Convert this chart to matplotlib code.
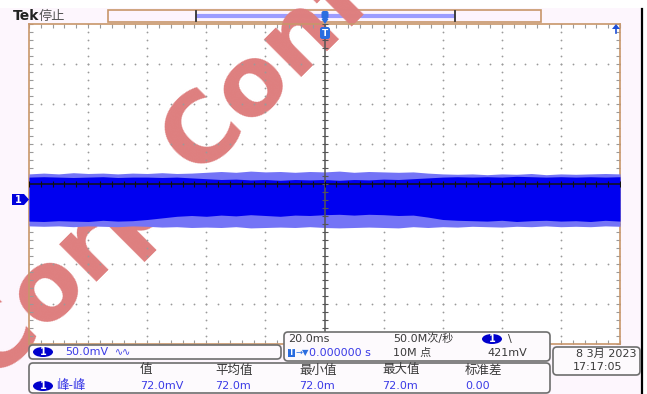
import numpy as np
import matplotlib
matplotlib.use('Agg')
import matplotlib.pyplot as plt
from matplotlib.patches import FancyBboxPatch, Rectangle, Polygon, Ellipse

plt.rcParams['font.family'] = ['DejaVu Sans', 'Noto Sans CJK SC']

# trace envelope, mV vs ms (20 ms/div, 50 mV/div)
time_ms = np.arange(-100, 101, 5)
outer_top = [32, 33, 32, 33.5, 32.5, 33, 32, 33, 32.5, 33.5, 32.5, 33, 34, 35, 34, 35.5, 34.5, 35, 34, 35, 34.5,
             35.5, 34, 35, 34.5, 34, 34.5, 33, 32, 31.5, 32, 31, 32, 31.5, 32.5, 31, 32, 31.5, 32, 32.5, 32]
core_top = [28, 28.5, 28, 27.5, 28, 28.5, 27.5, 28, 28, 27.5, 28, 27, 26, 25, 25.5, 24.5, 25, 24, 25, 24.5, 25,
            24, 25, 24.5, 25.5, 25, 26, 27, 28, 28.5, 28, 28.5, 28, 29, 28.5, 28, 28.5, 28, 28.5, 28, 28.5]
core_bot = [-27, -27.5, -26.5, -27, -27.5, -26, -27, -26.5, -25, -23, -21, -20, -21, -19.5, -20.5, -19, -20, -21,
            -19.5, -20, -19, -18.5, -19.5, -18.5, -19, -20, -19.5, -22, -25, -26, -26.5, -27, -26, -27.5, -26.5,
            -26, -27, -26.5, -27.5, -26, -27]
outer_bot = [-33, -33.5, -33, -34, -33, -33.5, -34, -33, -33.5, -34.5, -34, -35, -34.5, -35, -34, -35.5, -35,
             -34.5, -35, -34, -35, -35.5, -35, -34.5, -35, -35.5, -34, -35, -34, -34.5, -33.5, -34, -34.5, -33.5,
             -34, -33, -34, -33.5, -34, -33, -33.5]

ch1_offset_mv = 20  # ground marker sits 0.4 div below centre
meas_names = ['值', '平均值', '最小值', '最大值', '标准差']
meas_values = ['72.0mV', '72.0m', '72.0m', '72.0m', '0.00']
meas_x = [140, 215, 299, 382, 465]
ch1_scale = '50.0mV'
timebase = '20.0ms'
sample_rate = '50.0M次/秒'
record_len = '10M 点'
trig_level = '421mV'
trig_pos = '0.000000 s'
date_str = '8 3月 2023'
clock_str = '17:17:05'

W, H = 647, 394
BLUE = '#0000f0'
VAL = '#3b3be6'
TXT = '#3a3a3a'
TAN = '#c8966a'

fig = plt.figure(figsize=(W / 100, H / 100), dpi=100, facecolor='white')

# background layer in pixel coords
bg = fig.add_axes([0, 0, 1, 1], zorder=0)
bg.set_xlim(0, W)
bg.set_ylim(H, 0)
bg.axis('off')
bg.add_patch(Rectangle((0, 8), 642, H - 8, facecolor='#fdf6fd', edgecolor='none'))
bg.plot([642, 642], [9, H], color='black', lw=1.6)
bg.text(13, 16, 'Tek', fontsize=10, fontweight='bold', color='#222222', va='center')
bg.text(39, 16, '停止', fontsize=9.5, color='#555555', va='center')
# record bar
bg.add_patch(Rectangle((108, 10), 433, 12, facecolor='#fdf4fd', edgecolor=TAN, lw=1.2))
bg.plot([196, 455], [16, 16], color='#9c9cff', lw=3, solid_capstyle='butt')
bg.plot([196, 196], [11, 21], color='#333333', lw=1.3)
bg.plot([455, 455], [11, 21], color='#333333', lw=1.3)

# graticule
x0, x1, y0, y1 = 29, 620, 23.5, 343.5
ax = fig.add_axes([x0 / W, 1 - y1 / H, (x1 - x0) / W, (y1 - y0) / H], zorder=1)
ax.set_facecolor('white')
ax.set_xlim(-100, 100)
ax.set_ylim(-180, 220)
for s in ax.spines.values():
    s.set_color(TAN)
    s.set_linewidth(1.2)
ax.set_xticks(np.arange(-100, 101, 20))
ax.set_xticks(np.arange(-100, 101, 4), minor=True)
ax.set_yticks(np.arange(-180, 221, 50))
ax.set_yticks(np.arange(-180, 221, 10), minor=True)
ax.tick_params(which='both', direction='in', length=3, width=0.8, color='#9a9a9a',
               top=True, right=True, labelbottom=False, labelleft=False)

xdiv = np.arange(-80, 81, 20)
ydiv = np.arange(-130, 171, 50)
xmin = np.arange(-100, 101, 4)
ymin = np.arange(-180, 221, 10)
for xv in xdiv:
    if xv != 0:
        ax.plot(np.full(ymin.size, xv), ymin, ls='none', marker='o', ms=1.3, mew=0, color='#9a9a9a', zorder=2)
for yv in ydiv:
    if yv != ch1_offset_mv:
        ax.plot(xmin, np.full(xmin.size, yv), ls='none', marker='o', ms=1.3, mew=0, color='#9a9a9a', zorder=2)

ax.text(313, 28, 'Corp Confidential', transform=bg.transData, rotation=45, rotation_mode='anchor',
        ha='center', va='center', fontsize=70, fontweight='bold', color='#de7f7f',
        clip_on=False, zorder=1.5)

ax.fill_between(time_ms, outer_bot, outer_top, color='#7474f6', lw=0, zorder=3)
ax.fill_between(time_ms, core_bot, core_top, color=BLUE, lw=0, zorder=3.2)

# centre cross
ax.axvline(0, color='#555555', lw=1.1, zorder=4)
ax.axhline(ch1_offset_mv, color='#111111', lw=1.1, zorder=4)
ax.plot(np.zeros(ymin.size), ymin, ls='none', marker='_', ms=4, mew=0.8, color='#555555', zorder=4)
ax.plot(xmin, np.full(xmin.size, ch1_offset_mv), ls='none', marker='|', ms=4, mew=0.8, color='#111111', zorder=4)

# foreground layer: markers and readouts
fg = fig.add_axes([0, 0, 1, 1], zorder=2)
fg.set_xlim(0, W)
fg.set_ylim(H, 0)
fg.axis('off')
fg.patch.set_alpha(0)

gnd_y = y0 + (220 - 0) / 400 * (y1 - y0)
fg.add_patch(Polygon([(12, gnd_y - 5.5), (24, gnd_y - 5.5), (29, gnd_y), (24, gnd_y + 5.5), (12, gnd_y + 5.5)],
                     closed=True, facecolor='#0000dd', edgecolor='none'))
fg.text(18, gnd_y, '1', color='white', fontsize=7, fontweight='bold', ha='center', va='center')

# trigger position markers
fg.add_patch(FancyBboxPatch((321.5, 11), 7, 8, boxstyle='round,pad=0,rounding_size=2',
                            facecolor='#2a6de0', edgecolor='none'))
fg.add_patch(Polygon([(321.5, 19), (328.5, 19), (325, 24)], closed=True, facecolor='#2a6de0', edgecolor='none'))
fg.add_patch(FancyBboxPatch((320, 27), 10, 12, boxstyle='round,pad=0,rounding_size=2.5',
                            facecolor='#2a6de0', edgecolor='none'))
fg.text(325, 33.5, 'T', color='white', fontsize=6.5, fontweight='bold', ha='center', va='center')
fg.add_patch(Polygon([(612, 29), (620, 29), (616, 24)], closed=True, facecolor='#1e4fd8', edgecolor='none'))
fg.plot([616, 616], [28, 33], color='#1e4fd8', lw=1.2)


def box(x, y, w, h):
    fg.add_patch(FancyBboxPatch((x, y), w, h, boxstyle='round,pad=0,rounding_size=4',
                                facecolor='#fdfafd', edgecolor='#6e6e6e', lw=1.2))


def badge(x, y):
    fg.add_patch(Ellipse((x, y), 20, 10, facecolor='#0000cc', edgecolor='none'))
    fg.text(x, y, '1', color='white', fontsize=7, fontweight='bold', ha='center', va='center')


box(29, 345, 252, 14)
badge(43, 352)
fg.text(65, 352, ch1_scale, color=VAL, fontsize=8, va='center')
fg.text(115, 352, '∿∿', color=VAL, fontsize=7, va='center')

box(284, 332, 266, 29)
fg.text(288, 339, timebase, color=TXT, fontsize=8, va='center')
fg.text(393, 339, sample_rate, color=TXT, fontsize=8, va='center')
badge(492, 339)
fg.text(508, 339, '\\', color=TXT, fontsize=8, va='center')
fg.add_patch(Rectangle((288, 348.5), 7, 8, facecolor='#2a6de0', edgecolor='none'))
fg.text(291.5, 352.5, 'T', color='white', fontsize=5.5, fontweight='bold', ha='center', va='center')
fg.text(296, 353, '→▼', color='#2a6de0', fontsize=6, va='center')
fg.text(309, 353, trig_pos, color=VAL, fontsize=8, va='center')
fg.text(393, 353, record_len, color=TXT, fontsize=8, va='center')
fg.text(487, 353, trig_level, color=TXT, fontsize=8, va='center')

box(29, 363, 521, 30)
for name, val, xm in zip(meas_names, meas_values, meas_x):
    fg.text(xm, 370, name, color=TXT, fontsize=9, va='center')
    fg.text(xm, 386, val, color=VAL, fontsize=8, va='center')
badge(43, 386)
fg.text(56, 386, '峰-峰', color=VAL, fontsize=9, va='center')

box(553, 347, 87, 28)
fg.text(637, 354, date_str, color=TXT, fontsize=8, va='center', ha='right')
fg.text(573, 367, clock_str, color=TXT, fontsize=8, va='center')

fig.savefig('out.png', dpi=100, facecolor=fig.get_facecolor())
